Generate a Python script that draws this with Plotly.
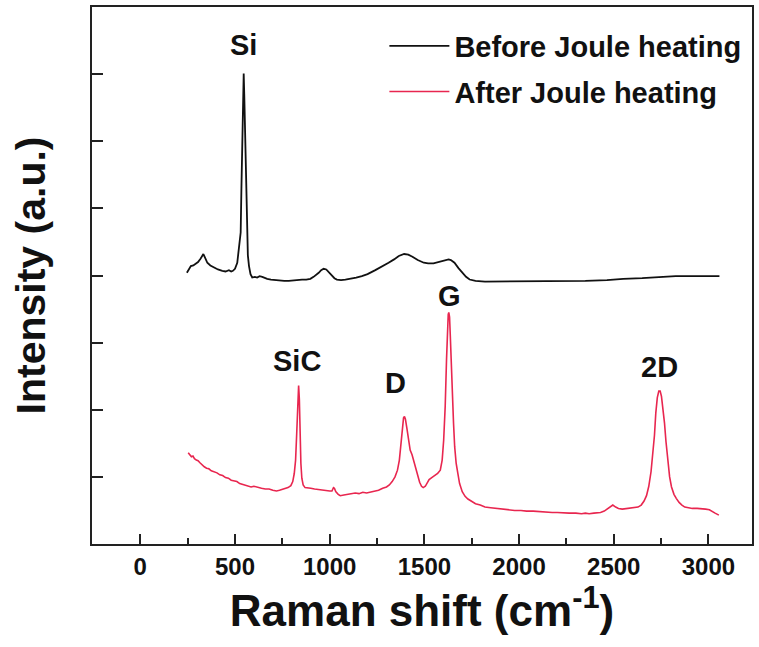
import plotly.graph_objects as go

# ---- data ----
before_x = [246, 255, 267, 280, 293, 305, 318, 333, 343, 354, 370, 389, 410, 433, 450, 468, 480, 489,
            500, 512, 522, 530, 534, 538, 542, 546, 549, 553, 557, 562, 568, 574, 582, 591, 605, 617,
            630, 644, 670, 690, 714, 740, 760, 784, 810, 830, 854, 876, 898, 915, 930, 942, 955, 968,
            982, 995, 1010, 1025, 1038, 1060, 1083, 1110, 1140, 1170, 1200, 1241, 1276, 1311, 1340,
            1365, 1393, 1415, 1437, 1465, 1497, 1520, 1548, 1575, 1600, 1615, 1628, 1640, 1659, 1680,
            1699, 1720, 1739, 1770, 1820, 1900, 1980, 2062, 2150, 2250, 2350, 2464, 2550, 2650, 2750,
            2827, 2900, 2980, 3058]
before_y = [4.04, 4.09, 4.14, 4.15, 4.17, 4.20, 4.25, 4.32, 4.26, 4.19, 4.15, 4.12, 4.09, 4.07, 4.06,
            4.08, 4.06, 4.07, 4.10, 4.19, 4.40, 4.64, 5.30, 6.13, 6.70, 7.01, 6.70, 6.13, 5.30, 4.64,
            4.30, 4.14, 4.02, 3.97, 3.98, 3.97, 3.99, 3.98, 3.95, 3.94, 3.93, 3.92, 3.92, 3.92, 3.93,
            3.93, 3.94, 3.94, 3.95, 3.98, 4.01, 4.04, 4.08, 4.10, 4.09, 4.05, 4.00, 3.96, 3.94, 3.93,
            3.94, 3.95, 3.97, 3.99, 4.02, 4.08, 4.13, 4.19, 4.24, 4.29, 4.32, 4.31, 4.28, 4.23, 4.19,
            4.18, 4.18, 4.20, 4.22, 4.24, 4.24, 4.23, 4.19, 4.11, 4.04, 3.98, 3.94, 3.92, 3.91, 3.91,
            3.91, 3.91, 3.91, 3.92, 3.92, 3.93, 3.95, 3.96, 3.98, 3.99, 3.99, 3.99, 3.99]

after_x = [253, 262, 270, 278, 286, 296, 305, 315, 325, 338, 350, 362, 375, 390, 405, 420, 435, 450,
           465, 480, 495, 510, 525, 540, 555, 570, 585, 600, 620, 640, 660, 680, 700, 719, 735, 750,
           765, 780, 795, 805, 813, 820, 826, 831, 836, 840, 844, 848, 853, 860, 870, 885, 900, 920,
           940, 960, 980, 1000, 1012, 1020, 1025, 1032, 1045, 1056, 1075, 1095, 1115, 1135, 1155,
           1175, 1195, 1215, 1235, 1258, 1280, 1300, 1315, 1330, 1345, 1358, 1368, 1376, 1384, 1390,
           1395, 1400, 1408, 1416, 1425, 1435, 1445, 1455, 1465, 1475, 1485, 1494, 1505, 1515, 1525,
           1539, 1555, 1570, 1584, 1594, 1602, 1610, 1617, 1622, 1626, 1629, 1633, 1637, 1642, 1648,
           1654, 1660, 1668, 1677, 1686, 1700, 1715, 1730, 1750, 1770, 1795, 1820, 1850, 1880, 1910,
           1940, 1977, 2010, 2040, 2075, 2110, 2145, 2175, 2202, 2235, 2265, 2300, 2330, 2350, 2370,
           2395, 2415, 2430, 2450, 2470, 2485, 2495, 2510, 2525, 2545, 2570, 2600, 2628, 2645, 2660,
           2673, 2685, 2697, 2707, 2715, 2722, 2730, 2738, 2745, 2752, 2760, 2768, 2776, 2785, 2795,
           2805, 2818, 2830, 2845, 2860, 2875, 2895, 2915, 2940, 2965, 2985, 3005, 3020, 3035, 3055]
after_y = [1.36, 1.33, 1.30, 1.31, 1.27, 1.25, 1.24, 1.21, 1.18, 1.15, 1.13, 1.12, 1.09, 1.08, 1.06,
           1.03, 1.02, 0.99, 0.98, 0.95, 0.94, 0.93, 0.90, 0.89, 0.87, 0.86, 0.85, 0.86, 0.84, 0.83,
           0.82, 0.82, 0.80, 0.79, 0.80, 0.81, 0.82, 0.84, 0.87, 0.93, 1.05, 1.25, 1.65, 2.10, 2.36,
           2.15, 1.60, 1.20, 0.98, 0.88, 0.84, 0.84, 0.83, 0.82, 0.81, 0.80, 0.80, 0.79, 0.79, 0.84,
           0.83, 0.78, 0.74, 0.72, 0.73, 0.74, 0.75, 0.76, 0.75, 0.77, 0.76, 0.77, 0.78, 0.80, 0.83,
           0.85, 0.88, 0.93, 1.00, 1.10, 1.25, 1.48, 1.75, 1.88, 1.90, 1.86, 1.72, 1.55, 1.40, 1.33,
           1.22, 1.10, 1.00, 0.92, 0.86, 0.84, 0.86, 0.92, 0.96, 0.99, 1.02, 1.05, 1.10, 1.25, 1.55,
           2.05, 2.75, 3.20, 3.42, 3.45, 3.38, 3.10, 2.65, 2.20, 1.80, 1.45, 1.20, 1.05, 0.90, 0.78,
           0.71, 0.67, 0.63, 0.60, 0.58, 0.55, 0.54, 0.53, 0.52, 0.51, 0.50, 0.50, 0.49, 0.49, 0.48,
           0.48, 0.47, 0.47, 0.46, 0.46, 0.46, 0.45, 0.46, 0.45, 0.46, 0.46, 0.47, 0.49, 0.53, 0.57,
           0.58, 0.55, 0.53, 0.52, 0.53, 0.54, 0.55, 0.58, 0.64, 0.72, 0.86, 1.08, 1.35, 1.62, 1.95,
           2.18, 2.28, 2.28, 2.20, 2.02, 1.80, 1.52, 1.25, 1.00, 0.85, 0.74, 0.68, 0.62, 0.58, 0.55,
           0.54, 0.53, 0.53, 0.53, 0.52, 0.51, 0.49, 0.46, 0.43]

peak_labels = ["Si", "SiC", "D", "G", "2D"]
peak_label_x = [547, 826, 1347, 1632, 2742]
peak_label_y = [7.44, 2.72, 2.40, 3.69, 2.63]

x_ticks = [0, 500, 1000, 1500, 2000, 2500, 3000]
y_ticks = [1, 2, 3, 4, 5, 6, 7]

FONT = "Liberation Sans, Arial, sans-serif"
RED = "#E8264F"

fig = go.Figure()
fig.add_trace(go.Scatter(x=before_x, y=before_y, mode="lines", name="Before Joule heating",
                         line=dict(color="#111111", width=1.8), legendgroup="a"))
fig.add_trace(go.Scatter(x=after_x, y=after_y, mode="lines", name="After Joule heating",
                         line=dict(color=RED, width=1.6), legendgroup="b"))

for t, x, y in zip(peak_labels, peak_label_x, peak_label_y):
    fig.add_annotation(x=x, y=y, text=t, showarrow=False,
                       font=dict(family=FONT, size=29, color="#111111", weight="bold"))

fig.update_layout(
    width=759, height=647,
    margin=dict(l=92, r=5, t=7, b=103),
    plot_bgcolor="white", paper_bgcolor="white",
    font=dict(family=FONT, color="#111111"),
    legend=dict(x=0.443, y=0.975, xanchor="left", yanchor="top", itemwidth=60,
                font=dict(family=FONT, size=29, color="#111111", weight="bold"),
                bgcolor="rgba(0,0,0,0)", tracegroupgap=5, traceorder="grouped"),
    showlegend=True,
)
fig.update_xaxes(
    range=[-255, 3230], tickvals=x_ticks, ticks="inside", ticklen=10, tickwidth=2,
    tickcolor="#222222", showline=True, linewidth=2, linecolor="#222222", mirror=True,
    showgrid=False, zeroline=False,
    tickfont=dict(family=FONT, size=24, color="#111111", weight="bold"),
    minor=dict(dtick=250, tick0=0, ticks="inside", ticklen=6, tickwidth=2, tickcolor="#222222"),
    title=dict(text="Raman shift (cm<sup>-1</sup>)", standoff=12,
               font=dict(family=FONT, size=44, color="#111111", weight="bold")),
)
fig.update_yaxes(
    range=[0, 8], tickvals=y_ticks, ticks="inside", ticklen=11, tickwidth=2,
    tickcolor="#222222", showline=True, linewidth=2, linecolor="#222222", mirror=True,
    showgrid=False, zeroline=False, showticklabels=False,
    title=dict(text="Intensity (a.u.)", standoff=32,
               font=dict(family=FONT, size=41, color="#111111", weight="bold")),
)

fig.write_html("out.html")
